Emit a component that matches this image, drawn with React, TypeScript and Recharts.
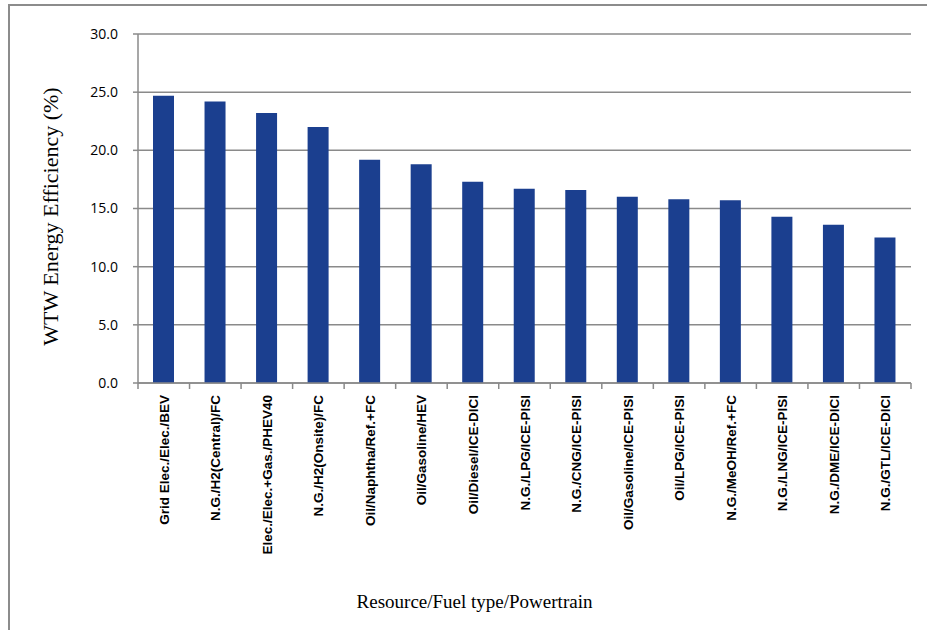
import { BarChart, Bar, XAxis, YAxis, CartesianGrid, Label } from "recharts";

const categories = [
  "Grid Elec./Elec./BEV",
  "N.G./H2(Central)/FC",
  "Elec./Elec.+Gas./PHEV40",
  "N.G./H2(Onsite)/FC",
  "Oil/Naphtha/Ref.+FC",
  "Oil/Gasoline/HEV",
  "Oil/Diesel/ICE-DICI",
  "N.G./LPG/ICE-PISI",
  "N.G./CNG/ICE-PISI",
  "Oil/Gasoline/ICE-PISI",
  "Oil/LPG/ICE-PISI",
  "N.G./MeOH/Ref.+FC",
  "N.G./LNG/ICE-PISI",
  "N.G./DME/ICE-DICI",
  "N.G./GTL/ICE-DICI",
];

const efficiency = [24.7, 24.2, 23.2, 22.0, 19.2, 18.8, 17.3, 16.7, 16.6, 16.0, 15.8, 15.7, 14.3, 13.6, 12.5];

const yTicks = [0, 5, 10, 15, 20, 25, 30];

const data = categories.map((name, i) => ({ name, value: efficiency[i] }));

const W = 927;
const H = 630;
const X_H = 60;
const M = { top: 34, right: 16, bottom: 187, left: 0 };
const Y_W = 138;
const BAND = (W - M.left - M.right - Y_W) / categories.length;

const AXIS = "#8a8a8a";

function XTick(props: any) {
  const { x, y, payload, index } = props;
  const last = index === categories.length - 1;
  const top = y - 8;
  return (
    <g>
      <line x1={x - BAND / 2} y1={top} x2={x - BAND / 2} y2={top + 6} stroke={AXIS} strokeWidth={1.5} />
      {last && (
        <line x1={x + BAND / 2} y1={top} x2={x + BAND / 2} y2={top + 6} stroke={AXIS} strokeWidth={1.5} />
      )}
      <text
        x={0}
        y={0}
        transform={`translate(${x + 5},${top + 12}) rotate(-90)`}
        textAnchor="end"
        fontFamily="'Liberation Sans', Arial, sans-serif"
        fontWeight="bold"
        fontSize={13.5}
        fill="#000"
      >
        {payload.value}
      </text>
    </g>
  );
}

export default function App() {
  return (
    <div style={{ position: "absolute", left: 0, top: 0, width: W, height: H, background: "#fff", overflow: "hidden" }}>
      <div
        style={{
          position: "absolute",
          left: 8,
          top: 4,
          width: W,
          height: H,
          borderTop: "2px solid #8c8c8c",
          borderLeft: "2px solid #8c8c8c",
        }}
      />
      <div style={{ position: "absolute", left: 0, top: 0 }}>
        <BarChart width={W} height={H} data={data} margin={M} barSize={21}>
          <CartesianGrid vertical={false} stroke={AXIS} strokeWidth={1.5} />
          <XAxis
            dataKey="name"
            interval={0}
            tickLine={false}
            axisLine={{ stroke: AXIS, strokeWidth: 1.5 }}
            tick={<XTick />}
            height={X_H}
          >
            <Label
              value="Resource/Fuel type/Powertrain"
              position="bottom"
              offset={152}
              dx={-50}
              style={{ fontFamily: "'Liberation Serif', 'DejaVu Serif', serif", fontSize: 19, fill: "#000" }}
            />
          </XAxis>
          <YAxis
            width={Y_W}
            domain={[0, 30]}
            ticks={yTicks}
            tickFormatter={(v: number) => v.toFixed(1)}
            tickSize={5}
            tickLine={{ stroke: AXIS, strokeWidth: 1.5 }}
            axisLine={{ stroke: AXIS, strokeWidth: 1.5 }}
            tick={{ fontFamily: "'Open Sans', sans-serif", fontSize: 14, fill: "#000" }}
            tickMargin={15}
          >
            <Label
              value="WTW Energy Efficiency (%)"
              angle={-90}
              position="insideLeft"
              offset={50}
              dy={8}
              style={{ textAnchor: "middle", fontFamily: "'Liberation Serif', 'DejaVu Serif', serif", fontSize: 22, fill: "#000" }}
            />
          </YAxis>
          <Bar dataKey="value" fill="#1b3f8f" isAnimationActive={false} />
        </BarChart>
      </div>
    </div>
  );
}
